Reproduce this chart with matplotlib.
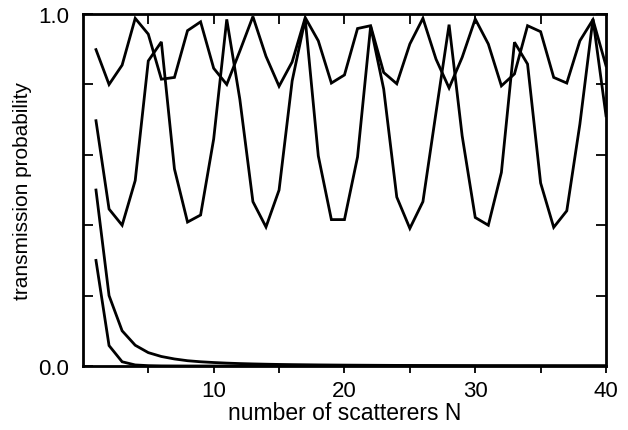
import matplotlib
matplotlib.use("Agg")
import matplotlib.pyplot as plt
from matplotlib.ticker import FixedLocator

plt.rcParams['font.family'] = ['Liberation Sans', 'DejaVu Sans']

N = list(range(1, 41))

# weakly oscillating curve (0.8 - 1.0)
curve_a = [0.899, 0.800, 0.855, 0.988, 0.943, 0.815, 0.820, 0.953, 0.978, 0.846,
           0.800, 0.895, 0.993, 0.880, 0.795, 0.864, 0.990, 0.924, 0.804, 0.827,
           0.959, 0.967, 0.834, 0.802, 0.915, 0.988, 0.872, 0.790, 0.877, 0.986,
           0.915, 0.796, 0.830, 0.967, 0.950, 0.820, 0.804, 0.924, 0.984, 0.853]

# strongly oscillating curve (0.4 - 1.0)
curve_b = [0.697, 0.446, 0.400, 0.527, 0.867, 0.921, 0.560, 0.409, 0.429, 0.645,
           0.985, 0.758, 0.467, 0.395, 0.500, 0.810, 0.986, 0.597, 0.416, 0.416,
           0.594, 0.965, 0.787, 0.480, 0.391, 0.467, 0.720, 0.970, 0.654, 0.422,
           0.400, 0.550, 0.920, 0.858, 0.520, 0.394, 0.441, 0.687, 0.986, 0.711]

# decaying curves
curve_c = [0.500, 0.200, 0.100, 0.059, 0.038, 0.027, 0.020, 0.015, 0.012, 0.0099,
           0.0082, 0.0069, 0.0059, 0.0051, 0.0044, 0.0039, 0.0035, 0.0031, 0.0028, 0.0025,
           0.0023, 0.0021, 0.0019, 0.0017, 0.0016, 0.0015, 0.0014, 0.0013, 0.0012, 0.0011,
           0.0010, 0.0010, 0.0009, 0.0009, 0.0008, 0.0008, 0.0007, 0.0007, 0.0007, 0.0006]

curve_d = [0.300, 0.058, 0.012, 0.003, 0.001, 0.0003, 0.0001, 0.0, 0.0, 0.0,
           0.0, 0.0, 0.0, 0.0, 0.0, 0.0, 0.0, 0.0, 0.0, 0.0,
           0.0, 0.0, 0.0, 0.0, 0.0, 0.0, 0.0, 0.0, 0.0, 0.0,
           0.0, 0.0, 0.0, 0.0, 0.0, 0.0, 0.0, 0.0, 0.0, 0.0]

x_tick_labels = ['10', '20', '30', '40']
x_label_pos = [10, 20, 30, 40]
y_tick_labels = ['0.0', '', '', '', '', '1.0']
y_tick_pos = [0.0, 0.2, 0.4, 0.6, 0.8, 1.0]

fig = plt.figure(figsize=(6.28, 4.31), dpi=100)
ax = fig.add_axes([0.132, 0.1485, 0.833, 0.8165])

lw = 2.0
for series in (curve_a, curve_b, curve_c, curve_d):
    ax.plot(N, series, color='black', lw=lw, solid_joinstyle='miter')

ax.set_xlim(0, 40)
ax.set_ylim(0, 1.0)

for s in ax.spines.values():
    s.set_linewidth(2.0)

ax.xaxis.set_major_locator(FixedLocator(x_label_pos))
ax.set_xticklabels(x_tick_labels)
ax.xaxis.set_minor_locator(FixedLocator([5, 15, 25, 35]))
ax.set_yticks(y_tick_pos)
ax.set_yticklabels(y_tick_labels)

ax.tick_params(axis='x', which='both', direction='out', length=5, width=1.3,
               top=False, labelsize=16, pad=5)
ax.tick_params(axis='y', which='both', direction='in', length=7, width=1.3,
               right=True, labelsize=16, pad=10)

# top ticks (inward) every 5
ax_top = ax.secondary_xaxis('top')
ax_top.xaxis.set_major_locator(FixedLocator([5, 10, 15, 20, 25, 30, 35]))
ax_top.tick_params(direction='in', length=7, width=1.3, labeltop=False)
ax_top.set_xticklabels([])

ax.set_xlabel('number of scatterers N', fontsize=16.5, labelpad=0)
ax.set_ylabel('transmission probability', fontsize=15, labelpad=4)

fig.savefig('out.png', dpi=100)
